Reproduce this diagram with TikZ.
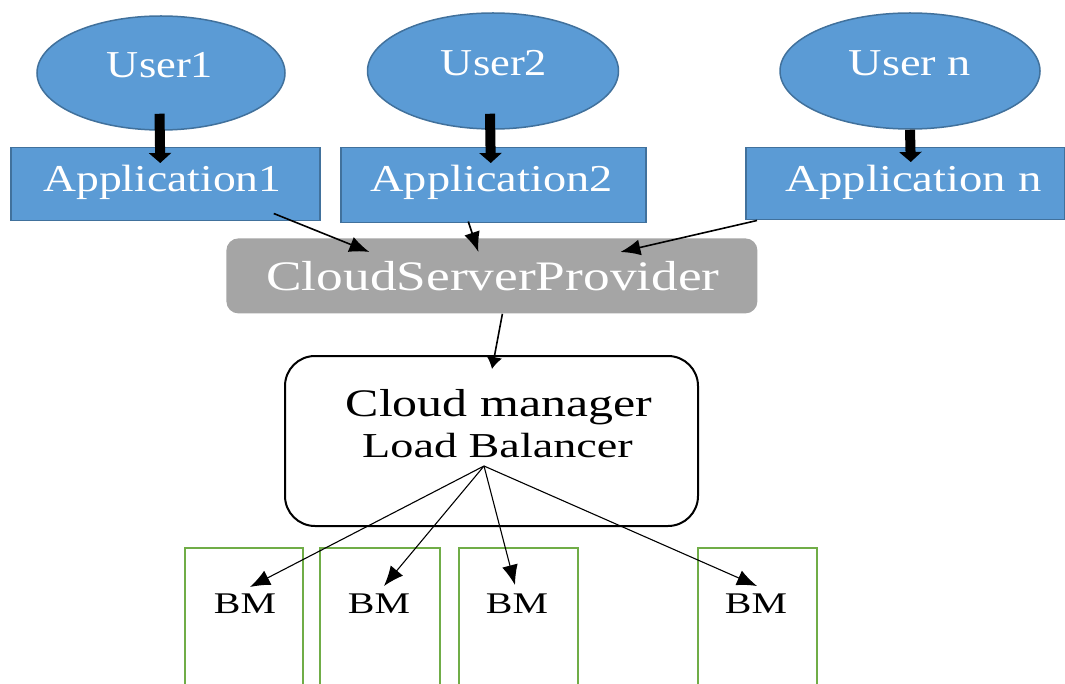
\documentclass[tikz,border=0pt]{standalone}
\usepackage{fontspec}
\setmainfont{Liberation Serif}
\usetikzlibrary{arrows.meta,shapes.geometric,calc}
\definecolor{appblue}{HTML}{5B9BD5}
\definecolor{appedge}{HTML}{41719C}
\definecolor{cspgray}{HTML}{A5A5A5}
\definecolor{bmgreen}{HTML}{70AD47}
\newcommand{\wtxt}[3]{\scalebox{#2}[1]{\fontsize{#1}{#1}\selectfont #3}}
\begin{document}
\begin{tikzpicture}[x=0.5pt,y=-0.5pt,
  userell/.style={ellipse, fill=appblue, draw=appedge, line width=0.75pt, inner sep=0pt},
  appbox/.style={rectangle, fill=appblue, draw=appedge, line width=0.75pt, inner sep=0pt, anchor=north west},
  cspbox/.style={rectangle, fill=cspgray, rounded corners=6pt, inner sep=0pt, anchor=north west},
  cmbox/.style={rectangle, draw=black, line width=1pt, rounded corners=15pt, inner sep=0pt, anchor=north west},
  bmbox/.style={rectangle, draw=bmgreen, line width=1pt, inner sep=0pt, anchor=north west, minimum height=80pt},
  wlabel/.style={text=white, inner sep=0pt, anchor=base},
  blabel/.style={text=black, inner sep=0pt, anchor=base},
  fatarrow/.style={line width=5pt, -{Triangle[length=5pt,width=11pt]}},
  thinarrow/.style={line width=0.8pt, -{Latex[length=10pt,width=8pt]}},
  fanarrow/.style={line width=0.55pt, -{Latex[length=10pt,width=8pt]}}
]
\useasboundingbox (0,0) rectangle (1065,684);
\clip (0,0) rectangle (1065,684);

% users
\node[userell, minimum width=124pt, minimum height=57pt] (u1) at (161,73) {};
\node[userell, minimum width=125.5pt, minimum height=58pt] (u2) at (493,71) {};
\node[userell, minimum width=130pt, minimum height=58pt] (un) at (910,71) {};
\node[wlabel] (u1t) at (160,78) {\wtxt{19pt}{1.17}{User1}};
\node[wlabel] (u2t) at (494,76) {\wtxt{19pt}{1.17}{User2}};
\node[wlabel] (unt) at (910,76) {\wtxt{19pt}{1.22}{User n}};

% applications
\node[appbox, minimum width=154.5pt, minimum height=36.5pt] (a1) at (10,147) {};
\node[appbox, minimum width=152.5pt, minimum height=37.5pt] (a2) at (340,147) {};
\node[appbox, minimum width=159.5pt, minimum height=36pt] (an) at (745,147) {};
\node[wlabel] (a1t) at (162.5,192) {\wtxt{19pt}{1.2}{Application1}};
\node[wlabel] (a2t) at (491.5,192) {\wtxt{19pt}{1.22}{Application2}};
\node[wlabel] (ant) at (913.5,192) {\wtxt{19pt}{1.23}{Application n}};

% user -> application
\draw[fatarrow] ($(u1.south)+(-1.5,-17)$) -- ($(a1.north)+(-5,16)$);
\draw[fatarrow] ($(u2.south)+(-3,-16)$) -- ($(a2.north)+(-2.5,16)$);
\draw[fatarrow] (un.south) -- ($(an.north)+(5.5,15)$);

% cloud server provider
\node[cspbox, minimum width=265.5pt, minimum height=37.5pt] (csp) at (226,238) {};
\node[wlabel] (cspt) at (493,291) {\wtxt{21pt}{1.27}{CloudServerProvider}};

% application -> csp
\draw[thinarrow] ($(a1.south)+(108.5,-8)$) -- ($(csp.north)+(-122.5,14)$);
\draw[thinarrow] ($(a2.south)+(-25,-2)$) -- ($(csp.north)+(-13.5,14)$);
\draw[thinarrow] ($(an.south west)+(12,0)$) -- ($(csp.north)+(128.5,14)$);

% cloud manager
\node[cmbox, minimum width=206.5pt, minimum height=85pt] (cm) at (284,355) {};
\node[blabel] (cm1) at (499,416) {\wtxt{19.5pt}{1.28}{Cloud manager}};
\node[blabel] (cm2) at (497.5,457) {\wtxt{17.5pt}{1.32}{Load Balancer}};
\draw[line width=0.8pt, -{Latex[length=6pt,width=8pt]}] ($(csp.south)+(10.5,0)$) -- ($(cm.north)+(0.5,14)$);

% BM boxes
\node[bmbox, minimum width=59pt] (b1) at (184,547) {};
\node[bmbox, minimum width=60pt] (b2) at (319,547) {};
\node[bmbox, minimum width=59.5pt] (b3) at (458,547) {};
\node[bmbox, minimum width=59.5pt] (b4) at (697,547) {};
\node[blabel] (bm1) at (245,613) {\wtxt{15pt}{1.33}{BM}};
\node[blabel] (bm2) at (379,613) {\wtxt{15pt}{1.33}{BM}};
\node[blabel] (bm3) at (517,613) {\wtxt{15pt}{1.33}{BM}};
\node[blabel] (bm4) at (756,613) {\wtxt{15pt}{1.33}{BM}};

% fan from load balancer
\coordinate (fan) at ($(cm.center)+(-7.5,25)$);
\draw[fanarrow] (fan) -- ($(bm1.base)+(5,-26)$);
\draw[fanarrow] (fan) -- ($(bm2.base)+(5,-27)$);
\draw[fanarrow] (fan) -- ($(bm3.base)+(-2,-28)$);
\draw[fanarrow] (fan) -- ($(bm4.base)+(1,-27)$);
\end{tikzpicture}
\end{document}
